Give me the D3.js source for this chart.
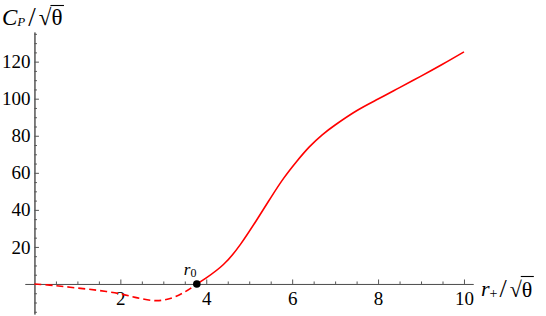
<!DOCTYPE html>
<html>
<head>
<meta charset="utf-8">
<script src="https://cdn.jsdelivr.net/npm/d3@7"></script>
<style>
  body { margin: 0; background: #fff; }
  svg { display: block; font-family: "Liberation Serif", "Times New Roman", serif; }
  .axis path, .axis line { stroke: #555; }
  .axis text { fill: #000; }
</style>
</head>
<body>
<div id="chart"></div>
<script>
// unstable branch (dashed), r+ from 0 to r0
var rUnstable = [0, 0.5, 1.0, 1.5, 2.0, 2.4, 2.85, 3.2, 3.5, 3.78];
var cpUnstable = [0, -0.9, -2.2, -3.5, -5.3, -7.5, -9.0, -7.5, -4.3, 0];

// stable branch (solid), r0 to 10
var rStable = [3.78, 4.0, 4.4, 4.8, 5.2, 5.5, 5.8, 6.1, 6.4, 6.7, 7.0, 7.5, 8.0, 8.5, 9.0, 9.5, 10.0];
var cpStable = [0, 3.3, 10.5, 21.5, 35.5, 46.5, 57, 66, 74, 80.5, 85.8, 93.5, 99.8, 106, 112.2, 118.6, 125.3];

var r0 = 3.78;
var xMajor = [2, 4, 6, 8, 10];
var yMajor = [20, 40, 60, 80, 100, 120];

function draw_plot() {
    var width = 546, height = 316;
    var serif = "'Liberation Serif', 'Times New Roman', serif";

    var x = d3.scaleLinear()
        .domain([-0.22, 10.21])
        .range([25, 473]);
    var y = d3.scaleLinear()
        .domain([-16.2, 136])
        .range([314, 32]);

    var svg = d3.select("#chart")
        .append("svg")
        .attr("width", width)
        .attr("height", height);

    var xMinor = d3.range(0.5, 10.01, 0.5).filter(function(d) { return xMajor.indexOf(d) < 0; });
    var yMinor = d3.range(-15, 136, 5).filter(function(d) { return d !== 0 && yMajor.indexOf(d) < 0; });

    // x axis sits on y = 0
    svg.append("g")
        .attr("class", "axis")
        .attr("transform", "translate(0," + y(0) + ")")
        .call(d3.axisBottom(x).tickValues(xMinor).tickSizeInner(-2.5).tickSizeOuter(0).tickFormat(""));
    var gx = svg.append("g")
        .attr("class", "axis")
        .attr("transform", "translate(0," + y(0) + ")")
        .call(d3.axisBottom(x).tickValues(xMajor).tickSizeInner(-4.5).tickSizeOuter(0).tickPadding(8).tickFormat(d3.format("d")));

    // y axis sits on x = 0
    svg.append("g")
        .attr("class", "axis")
        .attr("transform", "translate(" + x(0) + ",0)")
        .call(d3.axisLeft(y).tickValues(yMinor).tickSizeInner(-2.5).tickSizeOuter(0).tickFormat(""));
    var gy = svg.append("g")
        .attr("class", "axis")
        .attr("transform", "translate(" + x(0) + ",0)")
        .call(d3.axisLeft(y).tickValues(yMajor).tickSizeInner(-4.5).tickSizeOuter(0).tickPadding(4).tickFormat(d3.format("d")));

    [gx, gy].forEach(function(g) {
        g.selectAll("text")
            .style("font-family", serif)
            .style("font-size", "19px");
    });

    var dashedLine = d3.line()
        .x(function(d) { return x(d[0]); })
        .y(function(d) { return y(d[1]); })
        .curve(d3.curveCatmullRom.alpha(0.5));
    var solidLine = d3.line()
        .x(function(d) { return x(d[0]); })
        .y(function(d) { return y(d[1]); })
        .curve(d3.curveNatural);

    svg.append("path")
        .datum(d3.zip(rUnstable, cpUnstable))
        .attr("fill", "none")
        .attr("stroke", "#ff0000")
        .attr("stroke-width", 1.6)
        .attr("stroke-dasharray", "7,4")
        .attr("d", dashedLine);

    svg.append("path")
        .datum(d3.zip(rStable, cpStable))
        .attr("fill", "none")
        .attr("stroke", "#ff0000")
        .attr("stroke-width", 1.6)
        .attr("d", solidLine);

    // r0 point and label
    svg.append("circle")
        .attr("cx", x(r0))
        .attr("cy", y(0))
        .attr("r", 3.8)
        .attr("fill", "#000");

    var lab = svg.append("text")
        .attr("x", x(r0) - 13)
        .attr("y", y(0) - 9)
        .attr("font-size", 17);
    lab.append("tspan").attr("font-style", "italic").text("r");
    lab.append("tspan").attr("font-size", 12).attr("dy", 2).text("0");

    // radical overbar: starts at the top of the sqrt sign, ends past theta
    function overbar(textSel, idx, yTop) {
        var node = textSel.node();
        var a = node.getExtentOfChar(idx);
        var b = node.getExtentOfChar(idx + 1);
        svg.append("line")
            .attr("x1", a.x + a.width - 1).attr("x2", b.x + b.width + 1.5)
            .attr("y1", yTop).attr("y2", yTop)
            .attr("stroke", "#000").attr("stroke-width", 1.1);
    }

    // y axis title: C_P / sqrt(theta)
    var yt = svg.append("text").attr("x", 2).attr("y", 25).attr("font-size", 23);
    yt.append("tspan").attr("font-style", "italic").text("C");
    yt.append("tspan").attr("font-style", "italic").attr("font-size", 13).attr("dy", 1).text("P");
    yt.append("tspan").attr("font-size", 27).attr("dx", 3).attr("dy", 0).text("/");
    yt.append("tspan").attr("font-size", 23).attr("dx", 3).attr("dy", -1).text("\u221A\u03B8");
    overbar(yt, 3, 5.5);

    // x axis title: r_+ / sqrt(theta)
    var xt = svg.append("text").attr("x", 481).attr("y", 296).attr("font-size", 22);
    xt.append("tspan").attr("font-style", "italic").text("r");
    xt.append("tspan").attr("font-size", 14).attr("dy", 2).text("+");
    xt.append("tspan").attr("font-size", 26).attr("dx", 2).attr("dy", -1).text("/");
    xt.append("tspan").attr("font-size", 22).attr("dx", 3).attr("dy", 0).text("\u221A\u03B8");
    overbar(xt, 3, 276.5);
}

draw_plot();
</script>
</body>
</html>
